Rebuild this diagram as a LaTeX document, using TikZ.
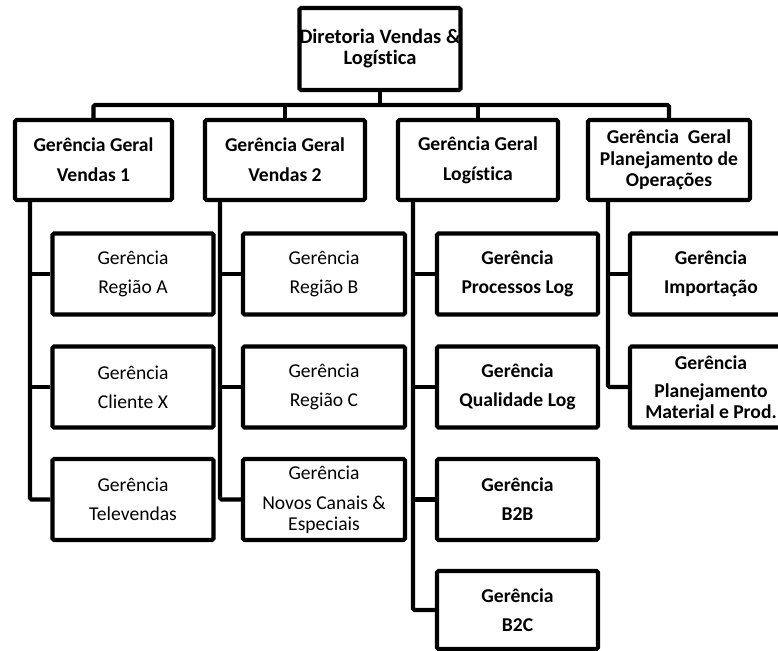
\documentclass[tikz,border=0pt]{standalone}
\usepackage{fontspec}
\setmainfont[Ligatures={NoCommon}]{Carlito}
\begin{document}
\begin{tikzpicture}[x=1pt,y=-1pt,
  box/.style={draw=black, line width=4.2pt, fill=white, rounded corners=1.5pt, inner sep=0pt, align=center, font=\fontsize{19.6}{21}\selectfont},
  bbox/.style={box, font=\fontsize{19.6}{21}\selectfont\bfseries},
  lvltwo/.style={minimum height=80pt},
  lvlthree/.style={minimum width=161pt, minimum height=81pt},
  conn/.style={draw=black, line width=4.2pt, rounded corners=1.5pt}]
\useasboundingbox (0,0) rectangle (778,650);

% top
\node[bbox, minimum width=160pt, minimum height=82pt, font=\fontsize{20.5}{21}\selectfont\bfseries] (top) at (380,49) {Diretoria Vendas \&\\Logística};

% level 2
\node[bbox, lvltwo, minimum width=157pt] (g1) at (93.5,160) {Gerência Geral\\[9pt]Vendas 1};
\node[bbox, lvltwo, minimum width=160pt] (g2) at (285,160) {Gerência Geral\\[9pt]Vendas 2};
\node[bbox, lvltwo, minimum width=160pt] (g3) at (478,160) {Gerência Geral\\[9pt]Logística};
\node[bbox, lvltwo, minimum width=162pt] (g4) at (669,160) {Gerência\ \ Geral\\[1pt]Planejamento de\\Operações};

% level 3, column 1
\node[box, lvlthree] (a1) at (133,274) {Gerência\\[8pt]Região A};
\node[box, lvlthree] (a2) at (133,387) {Gerência\\[8pt]Cliente X};
\node[box, lvlthree] (a3) at (133,499.5) {Gerência\\[8pt]Televendas};
% column 2
\node[box, lvlthree, minimum width=162pt] (b1) at (324,274) {Gerência\\[8pt]Região B};
\node[box, lvlthree, minimum width=162pt] (b2) at (324,387) {Gerência\\[8pt]Região C};
\node[box, lvlthree, minimum width=162pt] (b3) at (324,499.5) {Gerência\\[9pt]Novos Canais \&\\Especiais};
% column 3
\node[bbox, lvlthree] (c1) at (517.5,274) {Gerência\\[8pt]Processos Log};
\node[bbox, lvlthree] (c2) at (517.5,387) {Gerência\\[8pt]Qualidade Log};
\node[bbox, lvlthree] (c3) at (517.5,499.5) {Gerência\\[8pt]B2B};
\node[bbox, lvlthree, minimum height=78pt] (c4) at (517.5,610) {Gerência\\[8pt]B2C};
% column 4
\node[bbox, lvlthree, minimum width=162pt] (d1) at (711,274) {Gerência\\[8pt]Importação};
\node[bbox, lvlthree, minimum width=162pt] (d2) at (711,387) {Gerência\\[7pt]Planejamento\\Material e Prod.};

% bus from top box
\coordinate (bus) at (380,105);
\draw[conn] (top.south) -- (top.south |- bus);
\draw[conn] (g1.north) -- (g1.north |- bus) -- (g4.north |- bus) -- (g4.north);
\draw[conn] (g2.north) -- (g2.north |- bus);
\draw[conn] (g3.north) -- (g3.north |- bus);

% trunks
\coordinate (t1) at (30,200);
\coordinate (t2) at (220,200);
\coordinate (t3) at (413,200);
\coordinate (t4) at (608,200);

\draw[conn] (t1) |- (a3.west);
\draw[conn] (t1 |- a1.west) -- (a1.west);
\draw[conn] (t1 |- a2.west) -- (a2.west);

\draw[conn] (t2) |- (b3.west);
\draw[conn] (t2 |- b1.west) -- (b1.west);
\draw[conn] (t2 |- b2.west) -- (b2.west);

\draw[conn] (t3) |- (c4.west);
\draw[conn] (t3 |- c1.west) -- (c1.west);
\draw[conn] (t3 |- c2.west) -- (c2.west);
\draw[conn] (t3 |- c3.west) -- (c3.west);

\draw[conn] (t4) |- (d2.west);
\draw[conn] (t4 |- d1.west) -- (d1.west);
\end{tikzpicture}
\end{document}
